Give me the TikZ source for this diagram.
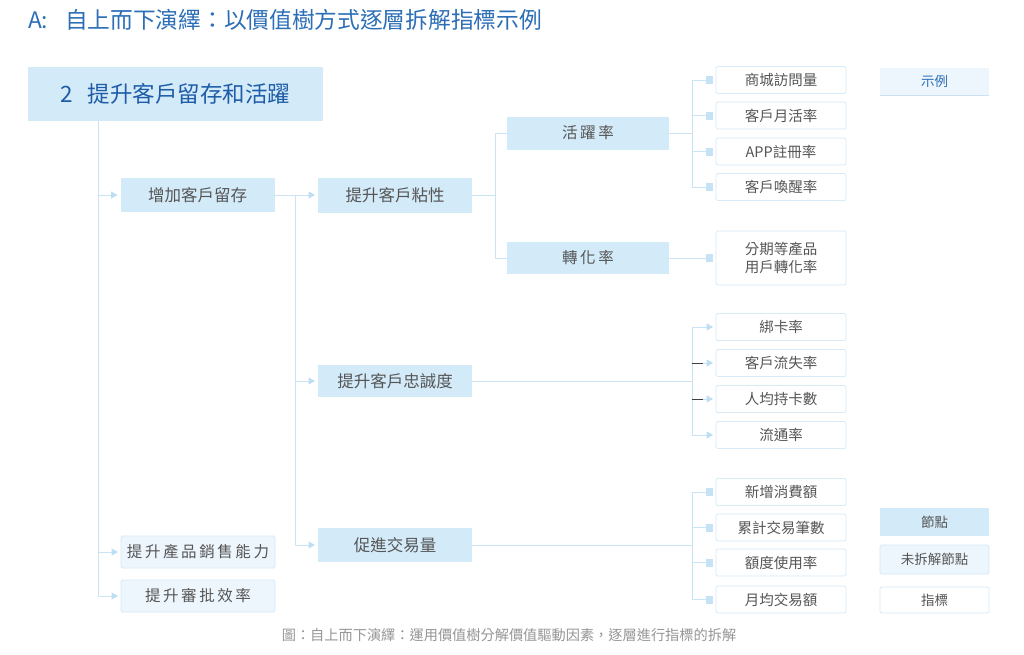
\documentclass[tikz,border=0pt]{standalone}
\usepackage{fontspec}
\setmainfont{Noto Sans CJK TC}
\usetikzlibrary{arrows.meta}
\definecolor{titleblue}{RGB}{44,111,183}
\definecolor{rootblue}{RGB}{30,92,168}
\definecolor{nodefill}{RGB}{211,234,248}
\definecolor{lnblue}{RGB}{200,228,245}
\definecolor{arrblue}{RGB}{190,222,243}
\definecolor{lightfill}{RGB}{238,246,253}
\definecolor{bordr}{RGB}{214,234,247}
\definecolor{txtgray}{RGB}{85,85,85}
\definecolor{capgray}{RGB}{150,150,150}
\definecolor{sqblue}{RGB}{197,227,245}
\begin{document}
\begin{tikzpicture}[x=1pt,y=-1pt,
  every node/.style={inner sep=0pt, outer sep=0pt, text=txtgray},
  keynode/.style={fill=nodefill, minimum width=154pt, font=\fontsize{16.5}{19}\selectfont},
  undec/.style={fill=lightfill, draw=bordr, line width=0.8pt, rounded corners=1.5pt, minimum width=154pt, font=\fontsize{16}{19}\selectfont},
  midnode/.style={fill=nodefill, minimum width=162pt, font=\fontsize{15.5}{18}\selectfont},
  leaf/.style={fill=white, draw=bordr, line width=0.8pt, rounded corners=1.5pt, minimum width=130pt, minimum height=27pt, font=\fontsize{14.5}{17}\selectfont, align=center},
  legend/.style={minimum width=109pt, minimum height=27pt, font=\fontsize{13.5}{16}\selectfont},
  sq/.style={fill=sqblue, minimum width=7pt, minimum height=8pt},
  ln/.style={draw=lnblue, line width=1pt},
  arr/.style={draw=lnblue, line width=1pt, -{Triangle[width=7pt,length=6.5pt,color=arrblue,fill=arrblue]}, shorten >=3pt},
  darkseg/.style={draw=black!75, line width=0.9pt}
]
\useasboundingbox[fill=white] (0,0) rectangle (1024,654);

% title
\node[anchor=west, text=titleblue, font=\fontsize{22.7}{26}\selectfont] (title) at (28,20) {A:\hspace{0.75em}自上而下演繹：以價值樹方式逐層拆解指標示例};

% root
\node[fill=nodefill, minimum width=295pt, minimum height=54pt, text=rootblue, font=\fontsize{22.5}{26}\selectfont] (root) at (175.5,94) {2\hspace{0.65em}提升客戶留存和活躍};

% level 1
\node[keynode, minimum height=34pt] (a1) at (197.5,195) {增加客戶留存};
\node[undec, minimum height=32pt, font=\fontsize{15.5}{18}\selectfont] (a2) at (198,552) {提\,升\,產\,品\,銷\,售\,能\,力};
\node[undec, minimum height=32pt, font=\fontsize{15.5}{18}\selectfont] (a3) at (198,596) {提\,升\,審\,批\,效\,率};

% level 2
\node[keynode, minimum height=35pt] (b1) at (395,195) {提升客戶粘性};
\node[keynode, minimum height=32pt] (b2) at (395,381) {提升客戶忠誠度};
\node[keynode, minimum height=34pt] (b3) at (395,545) {促進交易量};

% level 3
\node[midnode, minimum height=33pt] (c1) at (588,133) {活\,躍\,率};
\node[midnode, minimum height=32pt] (c2) at (588,258) {轉\,化\,率};

% leaves under 活躍率
\node[leaf] (m1) at (781,80) {商城訪問量};
\node[leaf] (m2) at (781,115.5) {客戶月活率};
\node[leaf] (m3) at (781,151.5) {APP註冊率};
\node[leaf] (m4) at (781,187) {客戶喚醒率};
\node[leaf, minimum height=54pt, font=\fontsize{14.5}{18}\selectfont] (m5) at (781,258) {分期等產品\\用戶轉化率};
\node[sq] (s1) at (709.5,80) {};
\node[sq] (s2) at (709.5,115.5) {};
\node[sq] (s3) at (709.5,151.5) {};
\node[sq] (s4) at (709.5,187) {};
\node[sq] (s5) at (709.5,258) {};

% leaves under 忠誠度
\node[leaf] (l1) at (781,327) {綁卡率};
\node[leaf] (l2) at (781,363) {客戶流失率};
\node[leaf] (l3) at (781,399) {人均持卡數};
\node[leaf] (l4) at (781,435) {流通率};

% leaves under 交易量
\node[leaf] (t1) at (781,492) {新增消費額};
\node[leaf] (t2) at (781,527.5) {累計交易筆數};
\node[leaf] (t3) at (781,562.5) {額度使用率};
\node[leaf] (t4) at (781,599.5) {月均交易額};
\node[sq] (u1) at (709.5,492) {};
\node[sq] (u2) at (709.5,527.5) {};
\node[sq] (u3) at (709.5,562.5) {};
\node[sq] (u4) at (709.5,599.5) {};

% legend
\node[legend, fill=lightfill] (g1) at (934.5,81.5) {\textcolor{titleblue}{示例}};
\draw[draw=lnblue!80!titleblue!60, line width=0.8pt] (g1.south west) -- (g1.south east);
\node[legend, fill=nodefill, minimum height=28pt] (g2) at (934.5,522) {節點};
\node[legend, fill=lightfill, draw=bordr, line width=0.8pt, rounded corners=1.5pt, minimum height=29pt] (g3) at (934.5,559.5) {未拆解節點};
\node[legend, fill=white, draw=bordr, line width=0.8pt, rounded corners=1.5pt, minimum height=26pt] (g4) at (934.5,600) {指標};

% caption
\node[text=capgray, font=\fontsize{14.2}{16}\selectfont] (cap) at (509,635) {圖：自上而下演繹：運用價值樹分解價值驅動因素，逐層進行指標的拆解};

% connectors: root
\coordinate (rv) at (98,121);
\draw[arr] (rv) |- (a1.west);
\draw[arr] (rv) |- (a2.west);
\draw[arr] (rv) |- (a3.west);

% 增加客戶留存 -> level 2
\coordinate (j1) at (295,195);
\draw[ln] (a1.east) -- (j1);
\draw[arr] (j1) |- (b1.west);
\draw[arr] (j1) |- (b2.west);
\draw[arr] (j1) |- (b3.west);

% 粘性 -> 活躍率, 轉化率
\coordinate (j2) at (495,195);
\draw[ln] (b1.east) -- (j2);
\draw[ln] (j2) |- (c1.west);
\draw[ln] (j2) |- (c2.west);

% 活躍率 -> leaves
\coordinate (j3) at (692,133);
\draw[ln] (c1.east) -- (j3);
\draw[ln] (j3) |- (s1.west);
\draw[ln] (j3) |- (s2.west);
\draw[ln] (j3) |- (s3.west);
\draw[ln] (j3) |- (s4.west);
\draw[ln] (c2.east) -- (s5.west);

% 忠誠度 -> leaves
\coordinate (j4) at (692,381);
\draw[ln] (b2.east) -- (j4);
\draw[arr] (j4) |- (l1.west);
\draw[arr] (j4) |- (l2.west);
\draw[arr] (j4) |- (l3.west);
\draw[arr] (j4) |- (l4.west);
\draw[darkseg] (j4 |- l2.west) -- ++(11,0);
\draw[darkseg] (j4 |- l3.west) -- ++(11,0);

% 交易量 -> leaves
\coordinate (j5) at (692,545);
\draw[ln] (b3.east) -- (j5);
\draw[ln] (j5) |- (u1.west);
\draw[ln] (j5) |- (u2.west);
\draw[ln] (j5) |- (u3.west);
\draw[ln] (j5) |- (u4.west);
\end{tikzpicture}
\end{document}
